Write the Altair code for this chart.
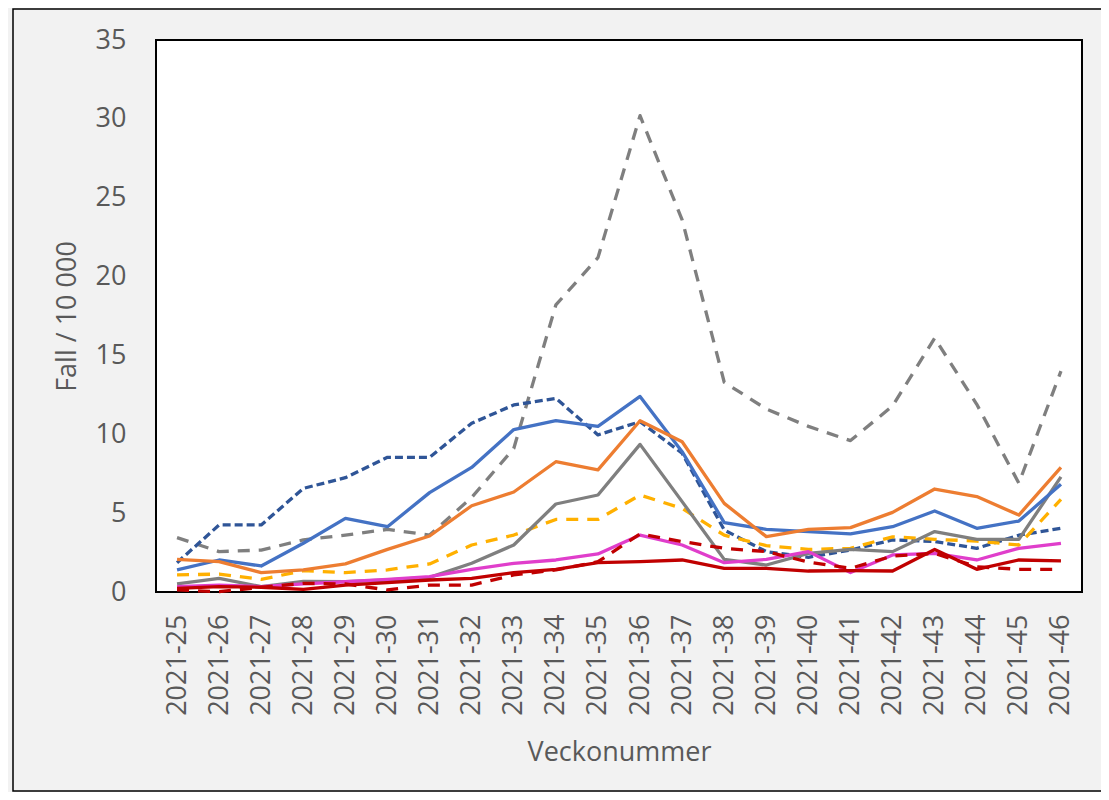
import altair as alt
import pandas as pd

weeks = [f"2021-{w}" for w in range(25, 47)]

blue = [1.4, 2.03, 1.65, 3.09, 4.67, 4.14, 6.3, 7.9, 10.3, 10.86, 10.5, 12.4, 8.9, 4.4, 3.97, 3.83, 3.68, 4.14, 5.14, 4.04, 4.5, 6.83]
orange = [2.07, 1.92, 1.23, 1.4, 1.78, 2.7, 3.55, 5.47, 6.34, 8.26, 7.74, 10.86, 9.53, 5.62, 3.51, 3.97, 4.08, 5.05, 6.53, 6.05, 4.88, 7.9]
gray = [0.51, 0.87, 0.34, 0.68, 0.66, 0.76, 0.93, 1.82, 2.98, 5.58, 6.15, 9.36, 5.73, 2.07, 1.71, 2.45, 2.7, 2.56, 3.83, 3.34, 3.34, 7.3]
yellow_dash = [1.08, 1.14, 0.8, 1.35, 1.23, 1.4, 1.78, 2.98, 3.61, 4.6, 4.6, 6.15, 5.3, 3.6, 2.94, 2.7, 2.77, 3.5, 3.34, 3.23, 2.98, 5.88]
darkblue_dash = [1.86, 4.25, 4.25, 6.57, 7.25, 8.54, 8.54, 10.7, 11.86, 12.28, 9.96, 10.8, 8.8, 3.93, 2.56, 2.2, 2.66, 3.3, 3.2, 2.77, 3.6, 4.04]
gray_dash = [3.45, 2.56, 2.66, 3.3, 3.61, 3.97, 3.61, 6.0, 9.1, 18.2, 21.2, 30.2, 23.6, 13.3, 11.6, 10.5, 9.6, 11.8, 16.1, 11.9, 6.9, 14.0]
magenta = [0.34, 0.44, 0.34, 0.51, 0.65, 0.8, 0.97, 1.44, 1.82, 2.03, 2.41, 3.61, 2.98, 1.86, 2.07, 2.56, 1.23, 2.35, 2.45, 2.03, 2.77, 3.09]
red = [0.23, 0.34, 0.3, 0.17, 0.44, 0.59, 0.76, 0.87, 1.23, 1.44, 1.86, 1.92, 2.03, 1.5, 1.5, 1.33, 1.35, 1.33, 2.7, 1.44, 2.03, 1.97]
red_dash = [0.13, 0.02, 0.3, 0.55, 0.51, 0.13, 0.44, 0.44, 1.08, 1.4, 1.92, 3.68, 3.2, 2.77, 2.56, 1.9, 1.5, 2.28, 2.45, 1.6, 1.44, 1.44]

series = [
    ("gray_dash", gray_dash, "#7F7F7F", [12, 9]),
    ("darkblue_dash", darkblue_dash, "#2F5597", [8, 4]),
    ("yellow_dash", yellow_dash, "#FFB000", [12, 9]),
    ("gray", gray, "#7F7F7F", None),
    ("magenta", magenta, "#E03ECB", None),
    ("blue", blue, "#4472C4", None),
    ("orange", orange, "#ED7D31", None),
    ("red_dash", red_dash, "#C00000", [12, 9]),
    ("red", red, "#C00000", None),
]

FONT = "Open Sans"
TXT = "#595959"
W, H = 926, 552
PAD = {"left": 148, "top": 32, "right": 19, "bottom": 200}

x_enc = alt.X(
    "week:N",
    sort=weeks,
    scale=alt.Scale(domain=weeks, paddingInner=0, paddingOuter=0.5),
    axis=alt.Axis(
        title="Veckonummer",
        labelAngle=270,
        labelAlign="right",
        labelBaseline="middle",
        labelPadding=22,
        ticks=False,
        domain=False,
        labelFont=FONT,
        labelFontSize=27,
        labelColor=TXT,
        titleFont=FONT,
        titleFontSize=27,
        titleFontWeight="normal",
        titleColor=TXT,
        titlePadding=24,
    ),
)
y_enc = alt.Y(
    "value:Q",
    scale=alt.Scale(domain=[0, 35], nice=False),
    axis=alt.Axis(
        title="Fall / 10 000",
        values=[0, 5, 10, 15, 20, 25, 30, 35],
        grid=False,
        ticks=False,
        domain=False,
        labelPadding=30,
        labelFont=FONT,
        labelFontSize=27,
        labelColor=TXT,
        titleFont=FONT,
        titleFontSize=27,
        titleFontWeight="normal",
        titleColor=TXT,
        titlePadding=14,
    ),
)

layers = []
frame = alt.Chart(pd.DataFrame({"a": [0]})).mark_rect(
    fill="transparent", stroke="black", strokeWidth=1.5
).encode(
    x=alt.value(-143), x2=alt.value(W + 40), y=alt.value(-31), y2=alt.value(H + 199)
)
layers.append(frame)

for name, vals, color, dash in series:
    df = pd.DataFrame({"week": weeks, "value": vals, "series": name})
    kw = dict(color=color, strokeWidth=3.3, strokeJoin="round", clip=False)
    if dash:
        kw["strokeDash"] = dash
    layers.append(alt.Chart(df).mark_line(**kw).encode(x=x_enc, y=y_enc))

chart = alt.layer(*layers).properties(
    width=W,
    height=H,
    padding=PAD,
    autosize=alt.AutoSizeParams(type="none"),
    background="#F2F2F2",
).configure_view(fill="white", stroke="black", strokeWidth=2)

chart.save("out.html", embed_options={"renderer": "svg", "actions": False})
